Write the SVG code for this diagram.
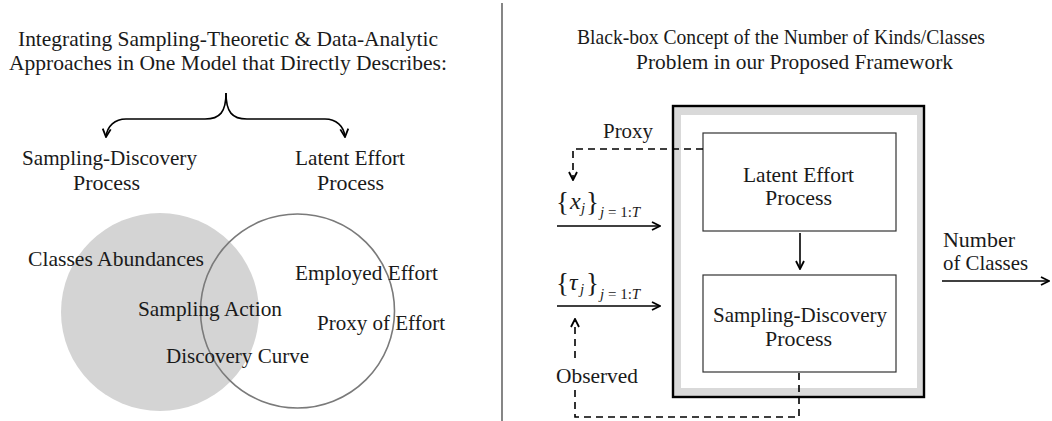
<svg xmlns="http://www.w3.org/2000/svg" width="1052" height="421" viewBox="0 0 1052 421">
  <style>
    text { font-family: "Liberation Serif", "Times New Roman", serif; font-size: 22px; fill: #1a1a1a; }
    .it { font-style: italic; }
    .sub { font-size: 15px; }
    .brace { font-size: 27px; }
    .var { font-size: 24px; font-style: italic; }
    .line { fill: none; stroke: #000; stroke-width: 1.6; }
    .dash { fill: none; stroke: #000; stroke-width: 1.6; stroke-dasharray: 7 5; }
    .box { fill: #fff; stroke: #333; stroke-width: 1.2; }
  </style>
  <defs>
    <marker id="chev" viewBox="0 0 10 10" refX="9" refY="5" markerWidth="10" markerHeight="10" markerUnits="userSpaceOnUse" orient="auto">
      <path d="M1,1 L9,5 L1,9" fill="none" stroke="#000" stroke-width="1.8"/>
    </marker>
  </defs>

  <rect width="1052" height="421" fill="#fff"/>

  <!-- panel divider -->
  <line x1="502" y1="3" x2="502" y2="421" stroke="#444" stroke-width="1.3"/>

  <!-- left panel: heading -->
  <g id="left-title">
    <text x="18" y="46" textLength="420" lengthAdjust="spacingAndGlyphs">Integrating Sampling-Theoretic &amp; Data-Analytic</text>
    <text x="9" y="70" textLength="438" lengthAdjust="spacingAndGlyphs">Approaches in One Model that Directly Describes:</text>
  </g>

  <g id="left-branches">
    <path class="line" d="M226,93 C226,112 220,119 205,119 L126,119 C115,119 107,126 106,137" marker-end="url(#chev)"/>
    <path class="line" d="M226,93 C226,112 232,119 247,119 L325,119 C336,119 344,126 345,137" marker-end="url(#chev)"/>
  </g>

  <g id="sampling-discovery-label">
    <text x="22" y="165" textLength="175" lengthAdjust="spacingAndGlyphs">Sampling-Discovery</text>
    <text x="73" y="190" textLength="67" lengthAdjust="spacingAndGlyphs">Process</text>
  </g>
  <g id="latent-effort-label">
    <text x="295" y="165" textLength="110" lengthAdjust="spacingAndGlyphs">Latent Effort</text>
    <text x="317" y="190" textLength="67" lengthAdjust="spacingAndGlyphs">Process</text>
  </g>

  <!-- Venn diagram -->
  <g id="venn-sampling">
    <circle cx="160" cy="312" r="99" fill="#d4d4d4"/>
  </g>
  <g id="venn-effort">
    <circle cx="297.5" cy="311" r="97" fill="none" stroke="#7a7a7a" stroke-width="1.6"/>
  </g>
  <g id="venn-labels">
    <text x="28" y="266" textLength="176" lengthAdjust="spacingAndGlyphs">Classes Abundances</text>
    <text x="295" y="280" textLength="143" lengthAdjust="spacingAndGlyphs">Employed Effort</text>
    <text x="138" y="316" textLength="144" lengthAdjust="spacingAndGlyphs">Sampling Action</text>
    <text x="317" y="330" textLength="128" lengthAdjust="spacingAndGlyphs">Proxy of Effort</text>
    <text x="166" y="363" textLength="143" lengthAdjust="spacingAndGlyphs">Discovery Curve</text>
  </g>

  <!-- right panel: heading -->
  <g id="right-title">
    <text x="577" y="44" textLength="408" lengthAdjust="spacingAndGlyphs">Black-box Concept of the Number of Kinds/Classes</text>
    <text x="636" y="69" textLength="317" lengthAdjust="spacingAndGlyphs">Problem in our Proposed Framework</text>
  </g>

  <!-- black box -->
  <g id="black-box">
    <rect x="673" y="106" width="251" height="291" fill="#d9d9d9" stroke="#000" stroke-width="2.4"/>
    <rect x="681" y="115" width="236" height="273" fill="#fff"/>
  </g>

  <g id="latent-effort-process">
    <rect class="box" x="703" y="133" width="193" height="98"/>
    <text x="743" y="182" textLength="111" lengthAdjust="spacingAndGlyphs">Latent Effort</text>
    <text x="765" y="205" textLength="67" lengthAdjust="spacingAndGlyphs">Process</text>
  </g>

  <g id="sampling-discovery-process">
    <rect class="box" x="703" y="275" width="193" height="97"/>
    <text x="713" y="322" textLength="174" lengthAdjust="spacingAndGlyphs">Sampling-Discovery</text>
    <text x="765" y="346" textLength="67" lengthAdjust="spacingAndGlyphs">Process</text>
  </g>

  <!-- inputs and outputs -->
  <g id="input-x">
    <text class="brace" x="556" y="211">{</text>
    <text class="var" x="570" y="209">x</text>
    <text class="sub it" x="581" y="213">j</text>
    <text class="brace" x="586" y="211">}</text>
    <text class="sub" x="600" y="217"><tspan class="it">j</tspan> = 1:<tspan class="it">T</tspan></text>
  </g>
  <g id="input-tau">
    <text class="brace" x="556" y="292">{</text>
    <text class="var" x="569" y="290">τ</text>
    <text class="sub it" x="580" y="294">j</text>
    <text class="brace" x="586" y="292">}</text>
    <text class="sub" x="600" y="299"><tspan class="it">j</tspan> = 1:<tspan class="it">T</tspan></text>
  </g>
  <g id="proxy-label">
    <text x="603" y="138" textLength="50" lengthAdjust="spacingAndGlyphs">Proxy</text>
  </g>
  <g id="observed-label">
    <text x="556" y="383" textLength="82" lengthAdjust="spacingAndGlyphs">Observed</text>
  </g>
  <g id="output-label">
    <text x="943" y="247" textLength="72" lengthAdjust="spacingAndGlyphs">Number</text>
    <text x="943" y="270" textLength="85" lengthAdjust="spacingAndGlyphs">of Classes</text>
  </g>

  <!-- connectors -->
  <g id="connectors">
    <path class="line" d="M557,226 L660,226" marker-end="url(#chev)"/>
    <path class="line" d="M557,306 L660,306" marker-end="url(#chev)"/>
    <path class="line" d="M800,233 L800,269" marker-end="url(#chev)"/>
    <path class="line" d="M942,281 L1049,281" marker-end="url(#chev)"/>
    <path class="dash" d="M703,149 L573,149 L573,180" marker-end="url(#chev)"/>
    <path class="dash" d="M575,358 L575,319" marker-end="url(#chev)"/>
    <path class="dash" d="M575,390 L575,417 L799,417 L799,372"/>
  </g>
</svg>
